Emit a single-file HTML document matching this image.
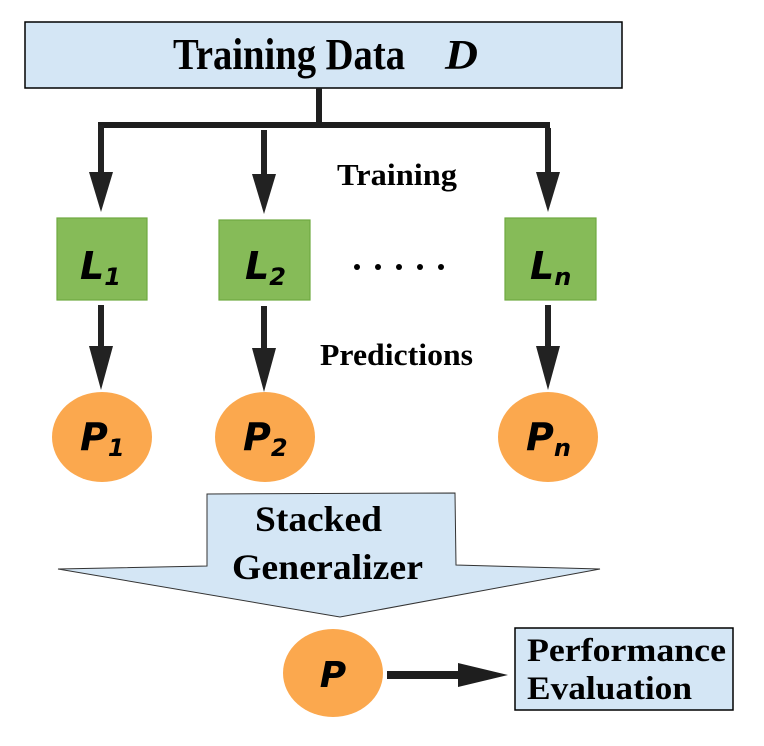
<!DOCTYPE html>
<html><head><meta charset="utf-8"><style>
body{margin:0;background:#fff;}
svg{display:block;}
.s{font-family:"Liberation Serif",serif;font-weight:bold;fill:#000;}
.v{font-family:"DejaVu Sans",sans-serif;font-weight:bold;font-style:italic;fill:#000;}
</style></head><body>
<svg width="764" height="746" viewBox="0 0 764 746" xmlns="http://www.w3.org/2000/svg">
<rect x="25" y="22" width="597" height="66" fill="#d4e6f5" stroke="#000" stroke-width="1.5"/>
<text x="173" y="69" class="s" font-size="44" textLength="232" lengthAdjust="spacingAndGlyphs">Training Data</text>
<text x="445" y="69" class="s" font-size="42" font-style="italic" textLength="33" lengthAdjust="spacingAndGlyphs">D</text>
<rect x="316" y="88" width="6" height="40" fill="#1e1e1e"/>
<rect x="98" y="122" width="452" height="6" fill="#1e1e1e"/>
<g fill="#222">
<rect x="98" y="125" width="6" height="55"/><polygon points="89,172 113,172 101,212"/>
<rect x="261" y="130" width="6" height="52"/><polygon points="252,174 276,174 264,214"/>
<rect x="545" y="128" width="6" height="52"/><polygon points="536,172 560,172 548,212"/>
<rect x="98" y="305" width="6" height="48"/><polygon points="89,346 113,346 101,390"/>
<rect x="261" y="306" width="6" height="48"/><polygon points="252,348 276,348 264,392"/>
<rect x="545" y="305" width="6" height="48"/><polygon points="536,346 560,346 548,390"/>
</g>
<text x="337" y="185" class="s" font-size="31" textLength="120" lengthAdjust="spacingAndGlyphs">Training</text>
<text x="320" y="365" class="s" font-size="31" textLength="153" lengthAdjust="spacingAndGlyphs">Predictions</text>
<g fill="#86bb58" stroke="#6fa940" stroke-width="1.2">
<rect x="57" y="218" width="90" height="82"/>
<rect x="219" y="220" width="91" height="80"/>
<rect x="505" y="218" width="91" height="82"/>
</g>
<text x="80" y="279" class="v" font-size="38">L<tspan font-size="24" dy="6">1</tspan></text>
<text x="245" y="279" class="v" font-size="38">L<tspan font-size="24" dy="6">2</tspan></text>
<text x="530" y="279" class="v" font-size="38">L<tspan font-size="24" dy="6">n</tspan></text>
<g fill="#000"><circle cx="357" cy="267" r="3"/><circle cx="378" cy="267" r="3"/><circle cx="399" cy="267" r="3"/><circle cx="420" cy="267" r="3"/><circle cx="441" cy="267" r="3"/></g>
<g fill="#fba84e">
<ellipse cx="102" cy="437" rx="50" ry="45"/>
<ellipse cx="265" cy="437" rx="50" ry="45"/>
<ellipse cx="548" cy="437" rx="50" ry="45"/>
<ellipse cx="333" cy="673" rx="50" ry="44"/>
</g>
<text x="80" y="450" class="v" font-size="38">P<tspan font-size="24" dy="6">1</tspan></text>
<text x="243" y="450" class="v" font-size="38">P<tspan font-size="24" dy="6">2</tspan></text>
<text x="526" y="450" class="v" font-size="38">P<tspan font-size="24" dy="6">n</tspan></text>
<text x="333" y="687" text-anchor="middle" class="v" font-size="36">P</text>
<polygon points="207,494 455,493 456,565 600,569 340,617 58,569 207,566" fill="#d4e6f5" stroke="#333" stroke-width="1"/>
<text x="255" y="531" class="s" font-size="36" textLength="127" lengthAdjust="spacingAndGlyphs">Stacked</text>
<text x="232" y="579" class="s" font-size="36" textLength="191" lengthAdjust="spacingAndGlyphs">Generalizer</text>
<rect x="387" y="671" width="80" height="8" fill="#1e1e1e"/>
<polygon points="458,663 508,675 458,687" fill="#1e1e1e"/>
<rect x="515" y="628" width="218" height="82" fill="#d4e6f5" stroke="#000" stroke-width="1.5"/>
<text x="527" y="661" class="s" font-size="33" textLength="199" lengthAdjust="spacingAndGlyphs">Performance</text>
<text x="527" y="699" class="s" font-size="33" textLength="165" lengthAdjust="spacingAndGlyphs">Evaluation</text>
</svg>
</body></html>
